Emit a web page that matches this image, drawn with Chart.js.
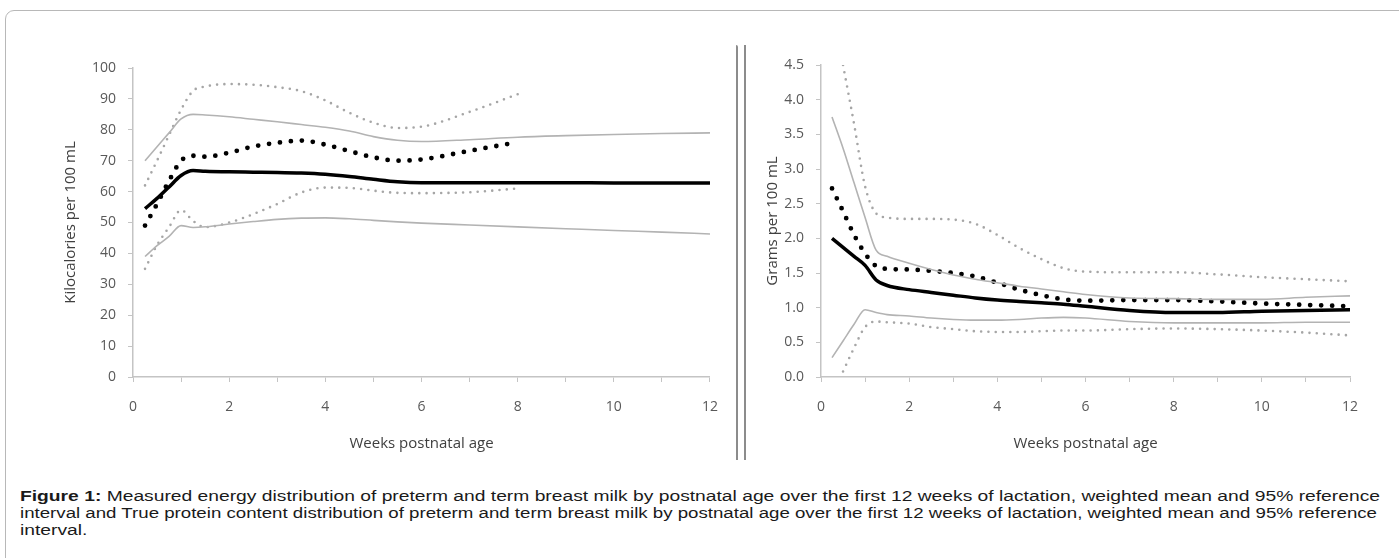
<!DOCTYPE html>
<html>
<head>
<meta charset="utf-8">
<script src="https://cdn.jsdelivr.net/npm/chart.js@4.4.0/dist/chart.umd.min.js"></script>
<style>
  html, body { margin: 0; padding: 0; background: #fff; }
  body { width: 1399px; height: 558px; position: relative; overflow: hidden; font-family: "Liberation Sans", Arial, sans-serif; }
  .frame { position: absolute; left: 5px; top: 10px; width: 1420px; height: 620px; border: 1px solid #b8b8b8; border-radius: 9px; }
  #energy { position: absolute; left: 0; top: 0; }
  #protein { position: absolute; left: 745px; top: 0; }
  .divider { position: absolute; top: 45px; height: 415px; width: 0; border-left: 2px solid #8c8c8c; }
  .caption { position: absolute; left: 20px; top: 488px; font-size: 14px; line-height: 17px; color: #1a1a1a; }
  .caption div { white-space: nowrap; transform-origin: 0 0; width: max-content; }
</style>
</head>
<body>
<div class="frame"></div>
<canvas id="energy" width="735" height="470"></canvas>
<div class="divider" style="left:736px; border-top-right-radius:6px;"></div>
<div class="divider" style="left:744px;"></div>
<canvas id="protein" width="654" height="470"></canvas>
<div class="caption">
  <div id="cap1"><b>Figure 1:</b> Measured energy distribution of preterm and term breast milk by postnatal age over the first 12 weeks of lactation, weighted mean and 95% reference</div>
  <div id="cap2">interval and True protein content distribution of preterm and term breast milk by postnatal age over the first 12 weeks of lactation, weighted mean and 95% reference</div>
  <div id="cap3">interval.</div>
</div>
<script>
// Weeks postnatal age (shared x grid for both panels)
const weeks = [0.25, 0.5, 0.75, 1, 1.25, 1.5, 2, 2.5, 3, 3.5, 4, 4.5, 5, 5.5, 6, 7, 8, 9, 10, 11, 12];
const weekTicks = [0, 2, 4, 6, 8, 10, 12];

// Energy, kcal per 100 mL
const energyTermMean  = [54.5, 57.8, 61.5, 65.2, 66.8, 66.6, 66.4, 66.3, 66.2, 66.0, 65.6, 64.9, 64.0, 63.2, 62.9, 62.9, 62.9, 62.9, 62.8, 62.8, 62.8];
const energyTermUpper = [70, 74.5, 79, 83.5, 85, 84.8, 84.2, 83.4, 82.6, 81.7, 80.8, 79.6, 77.8, 76.6, 76.2, 76.8, 77.6, 78.1, 78.5, 78.8, 79];
const energyTermLower = [39, 42.5, 45.5, 49, 48.4, 48.6, 49.5, 50.3, 51, 51.4, 51.5, 51.2, 50.7, 50.2, 49.8, 49.2, 48.6, 48, 47.4, 46.9, 46.3];
const energyPretermMean  = [49, 56, 63.5, 70, 71.6, 71.3, 72.6, 74.6, 75.8, 76.5, 75.2, 73.1, 71.1, 70, 70.4, 73.2, 76, null, null, null, null];
const energyPretermUpper = [62, 70, 78.3, 86.5, 92.6, 94, 94.8, 94.6, 93.8, 92.5, 89.5, 85.5, 82.3, 80.6, 81, 85.8, 91.5, null, null, null, null];
const energyPretermLower = [35, 42.7, 48.5, 54, 50.5, 48.5, 50, 52.7, 56, 59.7, 61.3, 61.2, 60.3, 59.6, 59.5, 59.8, 61, null, null, null, null];
const energyTicks = [0, 10, 20, 30, 40, 50, 60, 70, 80, 90, 100];

// True protein, g per 100 mL
const proteinTermMean  = [2.0, 1.87, 1.74, 1.61, 1.4, 1.32, 1.26, 1.22, 1.18, 1.14, 1.11, 1.09, 1.07, 1.05, 1.02, 0.96, 0.93, 0.93, 0.95, 0.96, 0.97];
const proteinTermUpper = [3.75, 3.3, 2.8, 2.3, 1.83, 1.74, 1.64, 1.55, 1.47, 1.41, 1.36, 1.31, 1.27, 1.23, 1.19, 1.14, 1.13, 1.12, 1.12, 1.15, 1.17];
const proteinTermLower = [0.28, 0.52, 0.76, 0.97, 0.93, 0.9, 0.88, 0.85, 0.83, 0.82, 0.82, 0.83, 0.85, 0.86, 0.85, 0.8, 0.78, 0.78, 0.78, 0.79, 0.79];
const proteinPretermMean  = [2.72, 2.39, 2.05, 1.78, 1.6, 1.56, 1.55, 1.53, 1.5, 1.45, 1.36, 1.26, 1.18, 1.12, 1.1, 1.11, 1.11, 1.09, 1.06, 1.04, 1.02];
const proteinPretermUpper = [null, 4.5, 3.65, 2.75, 2.36, 2.3, 2.28, 2.28, 2.27, 2.21, 2.05, 1.86, 1.7, 1.57, 1.52, 1.51, 1.51, 1.48, 1.44, 1.41, 1.38];
const proteinPretermLower = [null, 0.08, 0.42, 0.72, 0.8, 0.79, 0.77, 0.72, 0.69, 0.66, 0.65, 0.65, 0.66, 0.67, 0.67, 0.69, 0.7, 0.69, 0.67, 0.64, 0.6];
const proteinTicks = [0, 0.5, 1, 1.5, 2, 2.5, 3, 3.5, 4, 4.5];

Chart.defaults.font.family = "'Open Sans', sans-serif";
Chart.defaults.animation = false;

const axisGray = "#c4c4c4";
const tickGray = "#595959";

function points(values) {
  return weeks.map((w, i) => ({ x: w, y: values[i] })).filter((p) => p.y !== null);
}

function solid(values, color, width) {
  return { data: points(values), borderColor: color, borderWidth: width, pointRadius: 0, cubicInterpolationMode: "monotone" };
}

function dotted(values, color, width, gap) {
  return {
    data: points(values),
    borderColor: color,
    borderWidth: width,
    borderDash: [0, gap],
    borderCapStyle: "round",
    pointRadius: 0,
    cubicInterpolationMode: "monotone",
  };
}

function makeChart(id, cfg) {
  return new Chart(document.getElementById(id), {
    type: "line",
    data: {
      datasets: [
        solid(cfg.termLower, "#b3b3b3", 1.6),
        solid(cfg.termUpper, "#b3b3b3", 1.6),
        dotted(cfg.pretermLower, "#a6a6a6", 2.6, 7.3),
        dotted(cfg.pretermUpper, "#a6a6a6", 2.6, 7.3),
        solid(cfg.termMean, "#000", 3.5),
        dotted(cfg.pretermMean, "#000", 4.8, 11),
      ],
    },
    options: {
      responsive: false,
      layout: { padding: cfg.padding },
      plugins: { legend: { display: false }, tooltip: { enabled: false } },
      scales: {
        x: {
          type: "linear",
          min: 0,
          max: 12,
          afterBuildTicks: (scale) => {
            scale.ticks = [];
            for (let w = 0; w <= 12; w++) scale.ticks.push({ value: w });
          },
          afterFit: (scale) => { scale.height = 93; },
          ticks: {
            autoSkip: false,
            maxRotation: 0,
            padding: 17,
            color: tickGray,
            font: { size: 14 },
            callback: (v) => (weekTicks.includes(v) ? String(v) : ""),
          },
          grid: { drawOnChartArea: false, tickLength: 5, color: axisGray },
          border: { color: axisGray, width: 1.5 },
          title: {
            display: true,
            text: "Weeks postnatal age",
            color: "#404040",
            font: { size: 15 },
            padding: { top: 0, bottom: 17 },
          },
        },
        y: {
          min: 0,
          max: cfg.ticks[cfg.ticks.length - 1],
          afterBuildTicks: (scale) => { scale.ticks = cfg.ticks.map((v) => ({ value: v })); },
          afterFit: (scale) => { scale.width = cfg.yWidth; },
          ticks: {
            padding: 12,
            color: tickGray,
            font: { size: 14 },
            callback: cfg.format,
          },
          grid: { drawOnChartArea: false, tickLength: 5, color: axisGray },
          border: { color: axisGray, width: 1.5 },
          title: {
            display: true,
            text: cfg.yTitle,
            color: "#404040",
            font: { size: 15 },
            padding: { top: cfg.yTitlePad, bottom: 0 },
          },
        },
      },
    },
  });
}

makeChart("energy", {
  termMean: energyTermMean,
  termUpper: energyTermUpper,
  termLower: energyTermLower,
  pretermMean: energyPretermMean,
  pretermUpper: energyPretermUpper,
  pretermLower: energyPretermLower,
  ticks: energyTicks,
  format: (v) => String(v),
  yTitle: "Kilocalories per 100 mL",
  yWidth: 133,
  yTitlePad: 62,
  padding: { left: 0, top: 68, right: 20, bottom: 0 },
});

makeChart("protein", {
  termMean: proteinTermMean,
  termUpper: proteinTermUpper,
  termLower: proteinTermLower,
  pretermMean: proteinPretermMean,
  pretermUpper: proteinPretermUpper,
  pretermLower: proteinPretermLower,
  ticks: proteinTicks,
  format: (v) => Number(v).toFixed(1),
  yTitle: "Grams per 100 mL",
  yWidth: 76,
  yTitlePad: 19,
  padding: { left: 0, top: 65, right: 49, bottom: 0 },
});

// Stretch caption lines to the width they take in the figure
function fitLine(id, target, scale) {
  const el = document.getElementById(id);
  const s = scale || target / el.getBoundingClientRect().width;
  el.style.transform = "scaleX(" + s + ")";
  return s;
}
const capScale = fitLine("cap1", 1360);
fitLine("cap2", 1357);
fitLine("cap3", 0, capScale);
</script>
</body>
</html>
